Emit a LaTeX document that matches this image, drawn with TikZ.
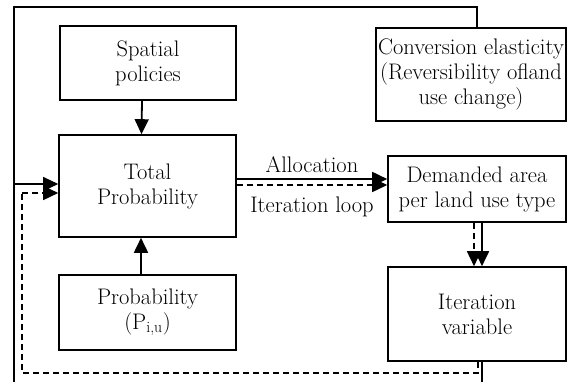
\documentclass[tikz,border=0pt]{standalone}
\usetikzlibrary{arrows.meta}
\begin{document}
\begin{tikzpicture}[x=1pt,y=1pt,
  box/.style={draw, line width=1.6pt, rectangle, align=center, inner sep=0pt,
    font=\fontsize{22.5}{25}\selectfont},
  arr/.style={line width=1.8pt, -{Triangle[length=15pt,width=14pt]}},
  darr/.style={line width=1.6pt, dash pattern=on 6pt off 4pt, -{Triangle[length=15pt,width=14pt]}},
  loopline/.style={line width=1.3pt},
  dloop/.style={line width=1.5pt, dash pattern=on 6pt off 4pt},
  lbl/.style={font=\fontsize{22.5}{25}\selectfont, inner sep=0pt}]
\useasboundingbox (0,0) rectangle (568,-381);
\clip (0,0) rectangle (568,-381);

% boxes
\node[box, minimum width=176, minimum height=74] (sp) at (148,-63) {Spatial\\policies};
\node[box, minimum width=177, minimum height=102] (tot) at (147.5,-186) {Total\\Probability};
\node[box, minimum width=177, minimum height=75] (prob) at (147.5,-312.5) {Probability\\(P\textsubscript{i,u})};
\node[box, minimum width=190, minimum height=93] (conv) at (471,-74.5) {Conversion elasticity\\(Reversibility ofland\\use change)};
\node[box, minimum width=178, minimum height=66] (dem) at (477,-189) {Demanded area\\per land use type};
\node[box, minimum width=178, minimum height=94] (iter) at (477,-314) {Iteration\\variable};

% inputs to the total probability
\draw[arr] ([xshift=-6]sp.south) -- ([xshift=-6]tot.north);
\draw[arr] ([xshift=-6.5]prob.north) -- ([xshift=-6.5]tot.south);

% allocation and iteration loop
\draw[arr] ([yshift=7]tot.east) -- ([yshift=10]dem.west) node[lbl, midway, above=5pt] {Allocation};
\draw[darr] ([yshift=1]tot.east) -- ([yshift=4]dem.west) node[lbl, midway, below=11pt] {Iteration loop};

% demand to iteration variable
\draw[arr] ([xshift=5]dem.south) -- ([xshift=5]iter.north);
\draw[darr] ([xshift=-3]dem.south) -- ([xshift=-3]iter.north);

% feedback from conversion elasticity and iteration variable
\coordinate (ltop) at (14,-7);
\coordinate (lbot) at (14,-395);
\draw[loopline] ([xshift=6]conv.north) |- (ltop) -- (lbot);
\draw[loopline] ([xshift=5]iter.south) |- (lbot);
\draw[loopline, -{Triangle[length=15pt,width=14pt]}] (14,-184) -- ([yshift=2]tot.west);

% dashed iteration feedback
\draw[dloop] ([xshift=1]iter.south) |- (22,-373) -- (22,-193);
\draw[darr] (22,-193) -- ([yshift=-7]tot.west);
\end{tikzpicture}
\end{document}
